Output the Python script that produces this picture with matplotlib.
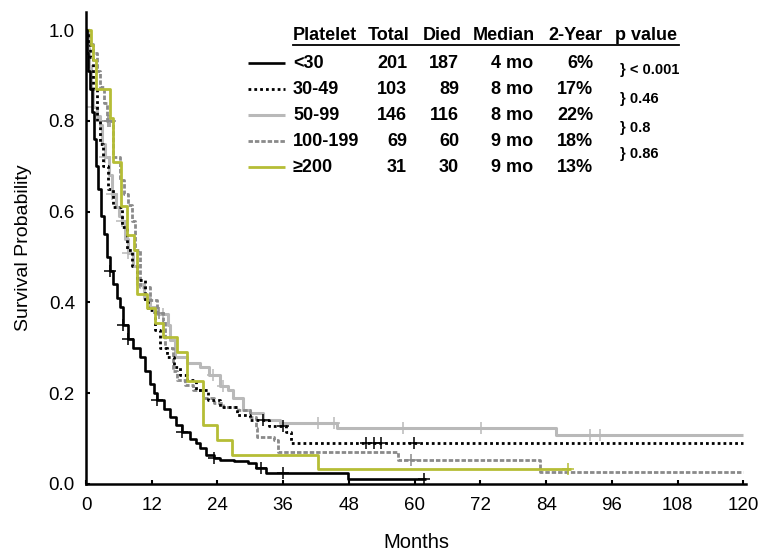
import numpy as np
import matplotlib.pyplot as plt
from matplotlib.lines import Line2D

plt.rcParams['font.family'] = ['Liberation Sans', 'DejaVu Sans']

# ------------------------------
# 1. Data
# ------------------------------
groups = ['<30', '30-49', '50-99', '100-199', '≥200']
totals = [201, 103, 146, 69, 31]
died = [187, 89, 116, 60, 30]
medians = ['4 mo', '8 mo', '8 mo', '9 mo', '9 mo']
two_year = ['6%', '17%', '22%', '18%', '13%']
p_values = ['} < 0.001', '} 0.46', '} 0.8', '} 0.86']

# Platelet < 30
t_lt30 = [0, 0.2, 0.4, 0.7, 1.1, 1.5, 1.9, 2.2, 2.7, 3.2, 3.85, 4.4, 5.0, 5.6, 6.2, 6.8, 7.7, 8.5,
          9.9, 10.8, 11.7, 12.4, 13.0, 14.2, 15.4, 16.5, 17.6, 19.0, 20.0, 20.9, 22.0, 23.3, 24.5,
          27.0, 29.5, 31.0, 32.8, 47.8]
s_lt30 = [1.0, 0.95, 0.91, 0.87, 0.82, 0.76, 0.70, 0.65, 0.59, 0.55, 0.50, 0.47, 0.44, 0.41, 0.39,
          0.35, 0.32, 0.30, 0.28, 0.25, 0.22, 0.20, 0.185, 0.165, 0.148, 0.13, 0.115, 0.10, 0.09,
          0.08, 0.065, 0.057, 0.053, 0.05, 0.046, 0.035, 0.024, 0.011]
end_lt30 = 62.0
cens_lt30 = [4.4, 6.8, 7.7, 13.0, 17.6, 23.3, 31.9, 35.9, 61.7]

# Platelet 30-49
t_30_49 = [0, 0.4, 0.7, 1.2, 2.0, 2.6, 3.1, 4.0, 5.0, 6.6, 7.5, 8.4, 9.3, 10.8, 11.4, 12.6, 13.6,
           14.8, 16.0, 17.2, 18.5, 20.0, 22.2, 24.5, 27.6, 30.0, 33.5, 36.6, 37.5]
s_30_49 = [1.0, 0.97, 0.94, 0.87, 0.80, 0.75, 0.70, 0.65, 0.61, 0.566, 0.515, 0.48, 0.45, 0.40,
           0.383, 0.34, 0.30, 0.28, 0.258, 0.24, 0.229, 0.207, 0.185, 0.17, 0.152, 0.141, 0.128,
           0.115, 0.09]
end_30_49 = 120.0
cens_30_49 = [32.4, 35.9, 51.1, 52.6, 53.9, 59.8]

# Platelet 50-99
t_50_99 = [0, 0.3, 0.6, 1.0, 1.3, 2.0, 2.6, 3.0, 3.5, 4.2, 4.8, 5.5, 6.0, 6.6, 7.2, 7.7, 8.5, 9.3,
           10.5, 11.7, 13.0, 15.0, 15.4, 16.3, 18.5, 20.9, 22.5, 24.5, 26.0, 26.9, 28.6, 30.0,
           32.4, 35.5, 45.8, 85.9]
s_50_99 = [1.0, 0.96, 0.92, 0.87, 0.83, 0.81, 0.79, 0.75, 0.72, 0.68, 0.64, 0.61, 0.59, 0.58,
           0.54, 0.51, 0.48, 0.44, 0.41, 0.39, 0.375, 0.35, 0.317, 0.28, 0.266, 0.258, 0.24,
           0.215, 0.207, 0.19, 0.163, 0.156, 0.141, 0.134, 0.123, 0.108]
end_50_99 = 120.0
cens_50_99 = [1.3, 3.5, 4.8, 6.6, 7.7, 14.1, 23.1, 25.1, 42.3, 45.3, 57.9, 72.2, 92.0, 93.8]

# Platelet 100-199
t_100_199 = [0, 0.5, 1.3, 2.0, 2.6, 3.2, 3.85, 5.0, 6.2, 7.0, 7.7, 8.4, 9.0, 9.9, 11.7, 13.0,
             14.0, 14.5, 15.8, 16.7, 18.1, 19.6, 21.4, 23.3, 25.1, 27.7, 30.0, 31.0, 31.3, 34.3,
             35.0, 57.0, 82.8]
s_100_199 = [1.0, 0.97, 0.95, 0.91, 0.875, 0.84, 0.80, 0.72, 0.67, 0.64, 0.615, 0.58, 0.515,
             0.434, 0.405, 0.376, 0.36, 0.30, 0.25, 0.229, 0.218, 0.207, 0.19, 0.178, 0.17,
             0.163, 0.148, 0.123, 0.104, 0.097, 0.07, 0.053, 0.026]
end_100_199 = 120.0
cens_100_199 = [4.0, 4.4, 13.3, 59.4]

# Platelet >= 200
t_ge200 = [0, 1.0, 1.3, 1.8, 4.4, 5.0, 6.3, 7.5, 8.8, 9.4, 11.2, 12.6, 14.1, 16.7, 18.5, 21.4,
           24.0, 26.7, 42.3]
s_ge200 = [1.0, 0.968, 0.935, 0.871, 0.806, 0.710, 0.613, 0.548, 0.516, 0.419, 0.387, 0.355,
           0.323, 0.290, 0.226, 0.129, 0.097, 0.065, 0.032]
end_ge200 = 88.5
cens_ge200 = [88.0]


# ------------------------------
# 2. Styles
# ------------------------------
BLACK = '#000000'
LIGHT = '#b9b9b9'
DARK = '#8a8a8a'
OLIVE = '#b5bd36'

styles = [
    dict(color=BLACK, lw=1.9, ls='-'),
    dict(color=BLACK, lw=2.0, ls=(0, (1, 1.1))),
    dict(color=LIGHT, lw=2.2, ls='-'),
    dict(color=DARK, lw=2.0, ls=(0, (1.6, 0.7))),
    dict(color=OLIVE, lw=2.0, ls='-'),
]


def draw_curve(ax, t, s, end, cens, st):
    tt = list(t) + [end]
    ss = list(s) + [s[-1]]
    ax.step(tt, ss, where='post', color=st['color'], lw=st['lw'], ls=st['ls'],
            solid_capstyle='butt', dash_capstyle='butt')
    # censor marks sit on the step curve
    idx = np.searchsorted(np.array(t), np.array(cens), side='right') - 1
    yv = np.array(s)[idx]
    ax.plot(cens, yv, ls='none', marker='+', ms=9, mew=1.1, color=st['color'])


# ------------------------------
# 3. Figure
# ------------------------------
fig = plt.figure(figsize=(7.62, 5.58), dpi=100)
ax = fig.add_axes([86 / 762, 74 / 558, 660 / 762, 472 / 558])

curves = [
    (t_lt30, s_lt30, end_lt30, cens_lt30),
    (t_30_49, s_30_49, end_30_49, cens_30_49),
    (t_50_99, s_50_99, end_50_99, cens_50_99),
    (t_100_199, s_100_199, end_100_199, cens_100_199),
    (t_ge200, s_ge200, end_ge200, cens_ge200),
]
for i in [2, 3, 1, 4, 0]:
    t, s, end, cens = curves[i]
    draw_curve(ax, t, s, end, cens, styles[i])

ax.set_xlim(0, 120.5)
ax.set_ylim(0, 1.04)
ax.set_xticks(np.arange(0, 121, 12))
ax.set_yticks(np.arange(0, 1.01, 0.2))
ax.set_yticklabels([f'{v:.1f}' for v in np.arange(0, 1.01, 0.2)])
for side in ['top', 'right']:
    ax.spines[side].set_visible(False)
for side in ['left', 'bottom']:
    ax.spines[side].set_linewidth(1.8)
ax.tick_params(direction='in', length=3, width=1.5, labelsize=13.5)
ax.tick_params(axis='x', pad=9)
ax.tick_params(axis='y', pad=8)
ax.set_xlabel('Months', fontsize=14.5, labelpad=14)
ax.set_ylabel('Survival Probability', fontsize=14, labelpad=12)


# ------------------------------
# 4. Legend table
# ------------------------------
def fx(x):
    return x / 762


def fy(y):
    return 1 - y / 558


head_y = 35
bold = dict(fontsize=13, fontweight='bold', va='center')
headers = [('Platelet', 293), ('Total', 368), ('Died', 423), ('Median', 473),
           ('2-Year', 548), ('p value', 615)]
for txt, x in headers:
    fig.text(fx(x), fy(head_y), txt, ha='left', **bold)
fig.add_artist(Line2D([fx(293), fx(679)], [fy(45), fy(45)], color='black', lw=1.3))

row_y = [63, 89, 115, 141, 167]
for i, y in enumerate(row_y):
    st = styles[i]
    fig.add_artist(Line2D([fx(248), fx(285)], [fy(y), fy(y)], color=st['color'],
                          lw=st['lw'], ls=st['ls'], solid_capstyle='butt'))
    fig.text(fx(293), fy(y), groups[i], ha='left', **bold)
    fig.text(fx(407), fy(y), str(totals[i]), ha='right', **bold)
    fig.text(fx(459), fy(y), str(died[i]), ha='right', **bold)
    fig.text(fx(533), fy(y), medians[i], ha='right', **bold)
    fig.text(fx(593), fy(y), two_year[i], ha='right', **bold)

p_y = [70, 99, 128, 154]
for p, y in zip(p_values, p_y):
    fig.text(fx(620), fy(y), p, ha='left', va='center', fontsize=10.5, fontweight='bold')

fig.savefig('out.png', dpi=100)
